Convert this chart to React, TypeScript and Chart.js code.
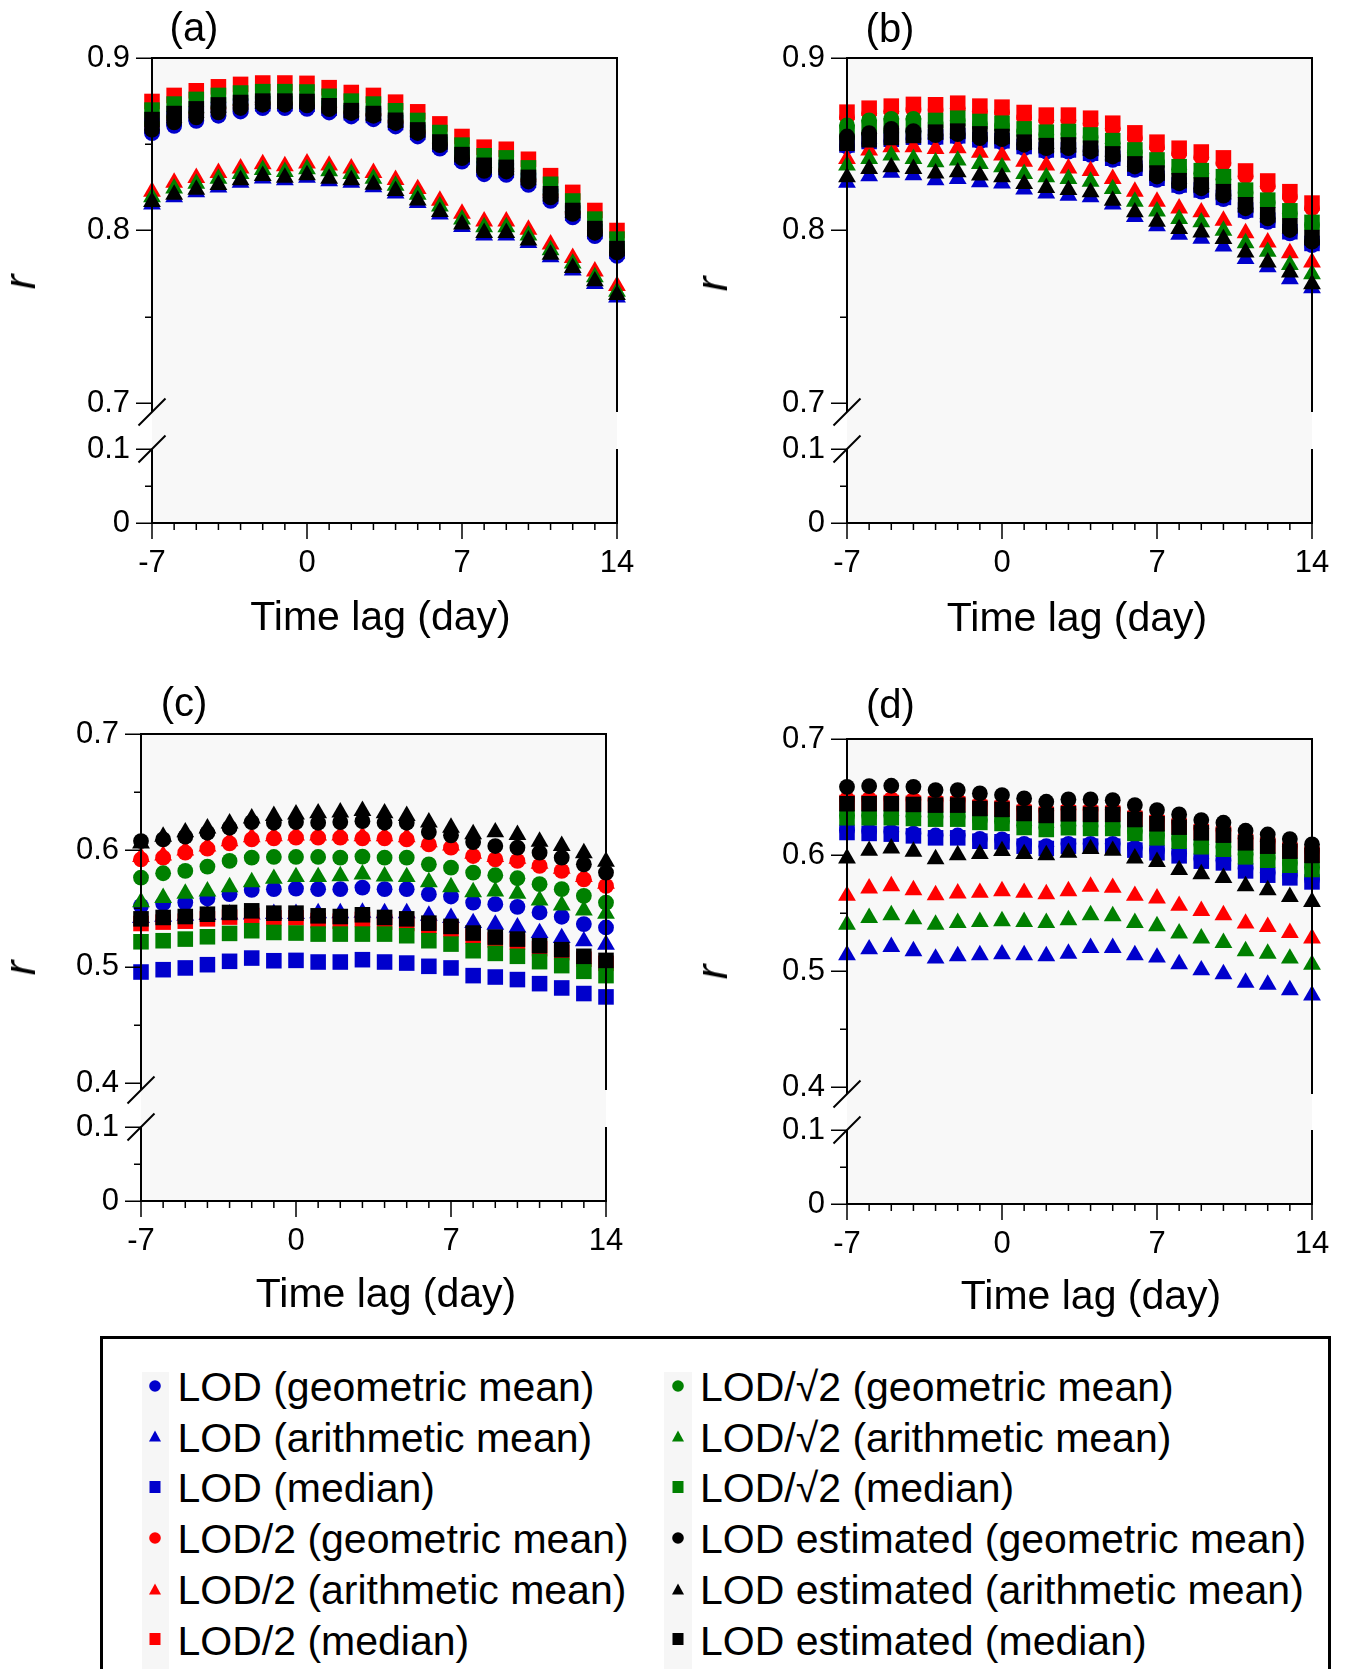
import React, { useEffect, useRef } from 'react';
import { Chart, registerables } from 'chart.js';

Chart.register(...registerables);

const FONT = "'Liberation Sans', Arial, Helvetica, sans-serif";
const BG = '#f8f8f8';

// ---------------- data ----------------
const LAGS = [-7, -6, -5, -4, -3, -2, -1, 0, 1, 2, 3, 4, 5, 6, 7, 8, 9, 10, 11, 12, 13, 14];
const X_TICKS = [-7, 0, 7, 14];
const X_LABELS = ['-7', '0', '7', '14'];
const Y_TICKS_AB = [0.7, 0.75, 0.8, 0.85, 0.9];
const Y_LABELS_AB = ['0.7', '', '0.8', '', '0.9'];
const Y_TICKS_CD = [0.4, 0.45, 0.5, 0.55, 0.6, 0.65, 0.7];
const Y_LABELS_CD = ['0.4', '', '0.5', '', '0.6', '', '0.7'];
const Y_TICKS_LOW = [0, 0.05, 0.1];
const Y_LABELS_LOW = ['0', '', '0.1'];

const SERIES_NAMES = [
  'LOD (geometric mean)', 'LOD (arithmetic mean)', 'LOD (median)',
  'LOD/2 (geometric mean)', 'LOD/2 (arithmetic mean)', 'LOD/2 (median)',
  'LOD/\u221A2 (geometric mean)', 'LOD/\u221A2 (arithmetic mean)', 'LOD/\u221A2 (median)',
  'LOD estimated (geometric mean)', 'LOD estimated (arithmetic mean)', 'LOD estimated (median)',
];
const BLUE = '#0000cc', RED = '#ff0000', GREEN = '#008000', BLACK = '#000000';
const SERIES_COLORS = [BLUE, BLUE, BLUE, RED, RED, RED, GREEN, GREEN, GREEN, BLACK, BLACK, BLACK];
const SERIES_SHAPES = ['circle', 'triangle', 'rect', 'circle', 'triangle', 'rect', 'circle', 'triangle', 'rect', 'circle', 'triangle', 'rect'];

// Panel (a)
const A_LOD_GEO = [0.8564,0.8607,0.8636,0.8665,0.8690,0.8709,0.8709,0.8705,0.8684,0.8661,0.8645,0.8603,0.8545,0.8475,0.8399,0.8326,0.8322,0.8264,0.8172,0.8076,0.7967,0.7853];
const A_LOD_ARI = [0.8151,0.8193,0.8222,0.8250,0.8277,0.8302,0.8292,0.8306,0.8286,0.8277,0.8251,0.8215,0.8160,0.8093,0.8021,0.7972,0.7972,0.7928,0.7846,0.7769,0.7691,0.7612];
const A_LOD_MED = [0.8609,0.8648,0.8676,0.8702,0.8721,0.8735,0.8735,0.8732,0.8709,0.8683,0.8667,0.8626,0.8569,0.8499,0.8425,0.8357,0.8349,0.8291,0.8198,0.8101,0.7994,0.7879];
const A_HALF_GEO = [0.8614,0.8653,0.8681,0.8707,0.8726,0.8740,0.8740,0.8737,0.8714,0.8688,0.8672,0.8631,0.8574,0.8504,0.8430,0.8362,0.8354,0.8296,0.8203,0.8106,0.7999,0.7884];
const A_HALF_ARI = [0.8226,0.8278,0.8305,0.8334,0.8361,0.8385,0.8373,0.8389,0.8377,0.8361,0.8334,0.8294,0.8241,0.8173,0.8098,0.8053,0.8053,0.8005,0.7920,0.7842,0.7763,0.7679];
const A_HALF_MED = [0.8748,0.8783,0.8810,0.8833,0.8847,0.8855,0.8855,0.8853,0.8828,0.8800,0.8783,0.8744,0.8688,0.8618,0.8545,0.8483,0.8471,0.8413,0.8318,0.8221,0.8116,0.8000];
const A_SQRT_GEO = [0.8619,0.8658,0.8686,0.8712,0.8731,0.8745,0.8745,0.8742,0.8719,0.8693,0.8677,0.8636,0.8579,0.8509,0.8435,0.8367,0.8359,0.8301,0.8208,0.8111,0.8004,0.7889];
const A_SQRT_ARI = [0.8193,0.8245,0.8272,0.8301,0.8328,0.8352,0.8340,0.8356,0.8344,0.8328,0.8301,0.8261,0.8208,0.8140,0.8065,0.8020,0.8020,0.7972,0.7887,0.7809,0.7730,0.7646];
const A_SQRT_MED = [0.8698,0.8733,0.8760,0.8783,0.8797,0.8805,0.8805,0.8803,0.8778,0.8750,0.8733,0.8694,0.8638,0.8568,0.8495,0.8433,0.8421,0.8363,0.8268,0.8171,0.8066,0.7950];
const A_EST_GEO = [0.8584,0.8627,0.8656,0.8685,0.8710,0.8729,0.8729,0.8725,0.8704,0.8681,0.8665,0.8623,0.8565,0.8495,0.8419,0.8346,0.8342,0.8284,0.8192,0.8096,0.7987,0.7873];
const A_EST_ARI = [0.8166,0.8208,0.8237,0.8265,0.8292,0.8317,0.8307,0.8321,0.8301,0.8292,0.8266,0.8230,0.8175,0.8108,0.8036,0.7987,0.7987,0.7943,0.7861,0.7784,0.7706,0.7627];
const A_EST_MED = [0.8643,0.8678,0.8705,0.8728,0.8742,0.8750,0.8750,0.8748,0.8723,0.8695,0.8678,0.8639,0.8583,0.8513,0.8440,0.8378,0.8366,0.8308,0.8213,0.8116,0.8011,0.7895];

// Panel (b)
const B_LOD_GEO = [0.8486,0.8506,0.8519,0.8531,0.8533,0.8539,0.8516,0.8510,0.8477,0.8457,0.8457,0.8438,0.8409,0.8351,0.8293,0.8254,0.8225,0.8182,0.8109,0.8050,0.7983,0.7915];
const B_LOD_ARI = [0.8277,0.8315,0.8335,0.8321,0.8292,0.8300,0.8281,0.8273,0.8238,0.8215,0.8203,0.8193,0.8151,0.8079,0.8025,0.7976,0.7953,0.7908,0.7835,0.7788,0.7718,0.7666];
const B_LOD_MED = [0.8496,0.8516,0.8529,0.8541,0.8543,0.8549,0.8526,0.8520,0.8487,0.8467,0.8467,0.8448,0.8419,0.8361,0.8303,0.8264,0.8235,0.8192,0.8119,0.8060,0.7993,0.7925];
const B_HALF_GEO = [0.8656,0.8679,0.8691,0.8701,0.8699,0.8708,0.8691,0.8685,0.8654,0.8639,0.8639,0.8621,0.8592,0.8536,0.8482,0.8447,0.8425,0.8391,0.8315,0.8257,0.8195,0.8129];
const B_HALF_ARI = [0.8416,0.8464,0.8484,0.8484,0.8474,0.8478,0.8451,0.8435,0.8400,0.8377,0.8361,0.8346,0.8299,0.8226,0.8168,0.8129,0.8106,0.8057,0.7985,0.7931,0.7869,0.7815];
const B_HALF_MED = [0.8686,0.8709,0.8721,0.8731,0.8729,0.8738,0.8721,0.8715,0.8684,0.8669,0.8669,0.8651,0.8622,0.8566,0.8512,0.8477,0.8455,0.8421,0.8345,0.8287,0.8225,0.8159];
const B_SQRT_GEO = [0.8609,0.8638,0.8647,0.8647,0.8623,0.8636,0.8617,0.8607,0.8574,0.8555,0.8559,0.8539,0.8506,0.8452,0.8394,0.8355,0.8332,0.8297,0.8219,0.8161,0.8099,0.8032];
const B_SQRT_ARI = [0.8377,0.8416,0.8435,0.8416,0.8396,0.8406,0.8387,0.8367,0.8328,0.8309,0.8299,0.8284,0.8241,0.8168,0.8111,0.8067,0.8048,0.7999,0.7927,0.7877,0.7801,0.7747];
const B_SQRT_MED = [0.8569,0.8598,0.8607,0.8607,0.8638,0.8651,0.8632,0.8622,0.8589,0.8570,0.8574,0.8554,0.8521,0.8467,0.8409,0.8370,0.8347,0.8312,0.8234,0.8176,0.8114,0.8047];
const B_EST_GEO = [0.8545,0.8564,0.8589,0.8576,0.8553,0.8559,0.8536,0.8530,0.8497,0.8477,0.8477,0.8458,0.8429,0.8371,0.8313,0.8274,0.8245,0.8202,0.8129,0.8070,0.8003,0.7935];
const B_EST_ARI = [0.8309,0.8358,0.8367,0.8358,0.8332,0.8338,0.8319,0.8309,0.8270,0.8247,0.8235,0.8222,0.8173,0.8106,0.8051,0.8009,0.7989,0.7951,0.7873,0.7815,0.7757,0.7689];
const B_EST_MED = [0.8506,0.8526,0.8539,0.8551,0.8570,0.8576,0.8560,0.8545,0.8512,0.8492,0.8496,0.8477,0.8444,0.8386,0.8333,0.8289,0.8264,0.8225,0.8149,0.8091,0.8027,0.7959];

// Panel (c)
const C_LOD_GEO = [0.5523,0.5543,0.5551,0.5586,0.5623,0.5660,0.5666,0.5671,0.5666,0.5666,0.5680,0.5666,0.5666,0.5623,0.5603,0.5551,0.5537,0.5514,0.5466,0.5429,0.5366,0.5337];
const C_LOD_ARI = [0.5420,0.5430,0.5440,0.5445,0.5450,0.5450,0.5455,0.5455,0.5460,0.5460,0.5465,0.5460,0.5460,0.5439,0.5419,0.5376,0.5361,0.5339,0.5290,0.5247,0.5219,0.5190];
const C_LOD_MED = [0.4954,0.4974,0.4989,0.5017,0.5046,0.5074,0.5051,0.5054,0.5040,0.5040,0.5060,0.5040,0.5031,0.5003,0.4989,0.4923,0.4911,0.4889,0.4854,0.4817,0.4769,0.4740];
const C_HALF_GEO = [0.5923,0.5937,0.5980,0.6014,0.6060,0.6094,0.6103,0.6109,0.6109,0.6109,0.6103,0.6103,0.6094,0.6051,0.6023,0.5951,0.5923,0.5909,0.5866,0.5823,0.5751,0.5694];
const C_HALF_ARI = [0.5943,0.5957,0.6000,0.6034,0.6080,0.6114,0.6123,0.6129,0.6129,0.6129,0.6123,0.6123,0.6114,0.6071,0.6043,0.5971,0.5943,0.5929,0.5886,0.5843,0.5771,0.5714];
const C_HALF_MED = [0.5371,0.5383,0.5391,0.5411,0.5426,0.5440,0.5420,0.5420,0.5397,0.5391,0.5406,0.5383,0.5371,0.5349,0.5321,0.5264,0.5229,0.5212,0.5155,0.5121,0.5064,0.5029];
const C_SQRT_GEO = [0.5766,0.5803,0.5823,0.5860,0.5909,0.5937,0.5943,0.5943,0.5943,0.5937,0.5946,0.5937,0.5937,0.5880,0.5851,0.5809,0.5786,0.5760,0.5709,0.5666,0.5609,0.5551];
const C_SQRT_ARI = [0.5556,0.5591,0.5628,0.5648,0.5685,0.5728,0.5756,0.5771,0.5771,0.5779,0.5794,0.5776,0.5771,0.5728,0.5685,0.5642,0.5648,0.5628,0.5571,0.5528,0.5485,0.5456];
const C_SQRT_MED = [0.5214,0.5223,0.5237,0.5257,0.5286,0.5309,0.5294,0.5289,0.5280,0.5280,0.5280,0.5280,0.5266,0.5223,0.5194,0.5137,0.5114,0.5089,0.5043,0.5009,0.4960,0.4923];
const C_EST_GEO = [0.6080,0.6094,0.6117,0.6151,0.6194,0.6243,0.6237,0.6243,0.6237,0.6243,0.6251,0.6237,0.6237,0.6157,0.6129,0.6071,0.6037,0.6023,0.5980,0.5937,0.5880,0.5809];
const C_EST_ARI = [0.6061,0.6119,0.6156,0.6190,0.6233,0.6276,0.6296,0.6310,0.6319,0.6327,0.6339,0.6319,0.6296,0.6241,0.6196,0.6139,0.6156,0.6133,0.6076,0.6039,0.5976,0.5904];
const C_EST_MED = [0.5411,0.5423,0.5431,0.5451,0.5466,0.5480,0.5460,0.5460,0.5437,0.5431,0.5446,0.5423,0.5411,0.5374,0.5346,0.5289,0.5254,0.5237,0.5180,0.5146,0.5089,0.5054];

// Panel (d)
const D_LOD_GEO = [0.6214,0.6206,0.6200,0.6185,0.6168,0.6168,0.6139,0.6134,0.6096,0.6076,0.6096,0.6096,0.6096,0.6062,0.6039,0.6013,0.5967,0.5952,0.5883,0.5846,0.5823,0.5788];
const D_LOD_ARI = [0.5137,0.5188,0.5209,0.5171,0.5108,0.5128,0.5137,0.5145,0.5137,0.5128,0.5151,0.5200,0.5200,0.5137,0.5117,0.5059,0.5007,0.4973,0.4901,0.4883,0.4835,0.4791];
const D_LOD_MED = [0.6194,0.6186,0.6180,0.6165,0.6148,0.6148,0.6119,0.6114,0.6076,0.6056,0.6076,0.6076,0.6076,0.6042,0.6019,0.5993,0.5947,0.5932,0.5863,0.5826,0.5803,0.5768];
const D_HALF_GEO = [0.6482,0.6482,0.6482,0.6476,0.6470,0.6470,0.6441,0.6433,0.6398,0.6381,0.6395,0.6390,0.6390,0.6346,0.6309,0.6280,0.6231,0.6211,0.6145,0.6116,0.6073,0.6036];
const D_HALF_ARI = [0.5649,0.5712,0.5732,0.5698,0.5655,0.5669,0.5675,0.5689,0.5675,0.5663,0.5689,0.5727,0.5718,0.5649,0.5626,0.5563,0.5519,0.5482,0.5410,0.5381,0.5329,0.5281];
const D_HALF_MED = [0.6452,0.6452,0.6452,0.6446,0.6440,0.6440,0.6411,0.6403,0.6368,0.6351,0.6365,0.6360,0.6360,0.6316,0.6279,0.6250,0.6201,0.6181,0.6115,0.6086,0.6043,0.6006];
const D_SQRT_GEO = [0.6341,0.6341,0.6341,0.6335,0.6329,0.6329,0.6301,0.6292,0.6257,0.6240,0.6255,0.6249,0.6249,0.6206,0.6168,0.6139,0.6091,0.6070,0.6004,0.5975,0.5932,0.5895];
const D_SQRT_ARI = [0.5401,0.5459,0.5482,0.5447,0.5401,0.5416,0.5424,0.5430,0.5424,0.5416,0.5439,0.5482,0.5473,0.5416,0.5387,0.5324,0.5281,0.5243,0.5171,0.5151,0.5108,0.5056];
const D_SQRT_MED = [0.6321,0.6321,0.6321,0.6315,0.6309,0.6309,0.6281,0.6272,0.6237,0.6220,0.6235,0.6229,0.6229,0.6186,0.6148,0.6119,0.6071,0.6050,0.5984,0.5955,0.5912,0.5875];
const D_EST_GEO = [0.6588,0.6594,0.6597,0.6588,0.6560,0.6560,0.6531,0.6517,0.6488,0.6459,0.6479,0.6479,0.6473,0.6430,0.6387,0.6350,0.6301,0.6278,0.6209,0.6177,0.6137,0.6091];
const D_EST_ARI = [0.5971,0.6037,0.6058,0.6029,0.5965,0.6000,0.6009,0.6035,0.6009,0.6000,0.6020,0.6052,0.6037,0.5971,0.5942,0.5871,0.5836,0.5804,0.5732,0.5698,0.5640,0.5597];
const D_EST_MED = [0.6442,0.6442,0.6442,0.6436,0.6430,0.6430,0.6401,0.6393,0.6358,0.6341,0.6355,0.6350,0.6350,0.6306,0.6269,0.6240,0.6191,0.6171,0.6105,0.6076,0.6033,0.5996];

// ---------------- panel setup (layout kept apart from data) ----------------
const PANELS = [
  { key: 'a', title: '(a)', hi: 0.9, lo: 0.7, ticks: Y_TICKS_AB, labels: Y_LABELS_AB,
    series: [A_LOD_GEO, A_LOD_ARI, A_LOD_MED, A_HALF_GEO, A_HALF_ARI, A_HALF_MED, A_SQRT_GEO, A_SQRT_ARI, A_SQRT_MED, A_EST_GEO, A_EST_ARI, A_EST_MED],
    g: { xL: 152, xR: 617, yHi: 58, yLoTick: 403, gapTop: 412, y01: 449, y0: 523, tx: 194, ty: 26.5, rx: 20, ry: 282, lx: 380.5, ly: 616 } },
  { key: 'b', title: '(b)', hi: 0.9, lo: 0.7, ticks: Y_TICKS_AB, labels: Y_LABELS_AB,
    series: [B_LOD_GEO, B_LOD_ARI, B_LOD_MED, B_HALF_GEO, B_HALF_ARI, B_HALF_MED, B_SQRT_GEO, B_SQRT_ARI, B_SQRT_MED, B_EST_GEO, B_EST_ARI, B_EST_MED],
    g: { xL: 847, xR: 1312, yHi: 58, yLoTick: 403, gapTop: 412, y01: 449, y0: 523, tx: 890, ty: 27.5, rx: 712, ry: 284, lx: 1077, ly: 617 } },
  { key: 'c', title: '(c)', hi: 0.7, lo: 0.4, ticks: Y_TICKS_CD, labels: Y_LABELS_CD,
    series: [C_LOD_GEO, C_LOD_ARI, C_LOD_MED, C_HALF_GEO, C_HALF_ARI, C_HALF_MED, C_SQRT_GEO, C_SQRT_ARI, C_SQRT_MED, C_EST_GEO, C_EST_ARI, C_EST_MED],
    g: { xL: 141, xR: 606, yHi: 734, yLoTick: 1083, gapTop: 1090, y01: 1127, y0: 1201, tx: 184, ty: 701.5, rx: 20, ry: 968, lx: 386, ly: 1293 } },
  { key: 'd', title: '(d)', hi: 0.7, lo: 0.4, ticks: Y_TICKS_CD, labels: Y_LABELS_CD,
    series: [D_LOD_GEO, D_LOD_ARI, D_LOD_MED, D_HALF_GEO, D_HALF_ARI, D_HALF_MED, D_SQRT_GEO, D_SQRT_ARI, D_SQRT_MED, D_EST_GEO, D_EST_ARI, D_EST_MED],
    g: { xL: 847, xR: 1312, yHi: 739, yLoTick: 1087, gapTop: 1094, y01: 1130, y0: 1204, tx: 890.4, ty: 704, rx: 712, ry: 972, lx: 1091, ly: 1295 } },
];

const PADL = 150, PADR = 50, PADT = 55, PADB = 55, XAXH = 80, YAXW = 80;
const TICK_FONT = { family: FONT, size: 31 };
const RADIUS: Record<string, number> = { circle: 7.9, triangle: 10.3, rect: 11 };

function brokenAxisPlugin(part: 'upper' | 'lower', yTicks: number[], yLabels: string[]) {
  return {
    id: 'brokenAxis_' + part,
    afterDatasetsDraw(chart: any) {
      const { ctx, chartArea } = chart;
      const { left, right, top, bottom } = chartArea;
      const ys = chart.scales.y;
      const xs = chart.scales.x;
      ctx.save();
      ctx.strokeStyle = '#000';
      ctx.lineWidth = 2;
      ctx.lineJoin = 'miter';
      ctx.beginPath();
      if (part === 'upper') {
        ctx.moveTo(left, bottom);
        ctx.lineTo(left, top);
        ctx.lineTo(right, top);
        ctx.lineTo(right, bottom);
      } else {
        ctx.moveTo(left, top);
        ctx.lineTo(left, bottom);
        ctx.lineTo(right, bottom);
        ctx.lineTo(right, top);
      }
      ctx.stroke();
      ctx.lineWidth = 1.5;
      ctx.beginPath();
      yTicks.forEach((v, i) => {
        const y = Math.round(ys.getPixelForValue(v)) + 0.25;
        const len = yLabels[i] ? 16 : 7;
        ctx.moveTo(left - len, y);
        ctx.lineTo(left, y);
      });
      if (part === 'lower') {
        LAGS.forEach((lag) => {
          const x = xs.getPixelForValue(lag);
          const len = X_TICKS.includes(lag) ? 16 : 7;
          ctx.moveTo(x, bottom);
          ctx.lineTo(x, bottom + len);
        });
      }
      ctx.stroke();
      const cy = part === 'upper' ? bottom : top;
      ctx.lineWidth = 2;
      ctx.beginPath();
      ctx.moveTo(left - 13.5, cy + 13.5);
      ctx.lineTo(left + 13.5, cy - 13.5);
      ctx.stroke();
      ctx.restore();
    },
  };
}

function yScale(min: number, max: number, ticks: number[], labels: string[]) {
  return {
    type: 'linear', position: 'left', min, max,
    afterBuildTicks: (s: any) => { s.ticks = ticks.map((v) => ({ value: v })); },
    afterFit: (s: any) => { s.width = YAXW; },
    grid: { display: false, drawTicks: false, tickLength: 0 },
    border: { display: false },
    ticks: { autoSkip: false, padding: 22, color: '#000', font: TICK_FONT, callback: (_v: any, i: number) => labels[i] },
  };
}

function upperConfig(p: any) {
  const g = p.g;
  const pxPerUnit = (g.yLoTick - g.yHi) / (p.hi - p.lo);
  const yMin = p.lo - (g.gapTop - g.yLoTick) / pxPerUnit;
  const datasets = p.series.map((arr: number[], i: number) => ({
    label: SERIES_NAMES[i],
    data: LAGS.map((x, j) => ({ x, y: arr[j] })),
    pointStyle: SERIES_SHAPES[i],
    pointRadius: RADIUS[SERIES_SHAPES[i]],
    pointBackgroundColor: SERIES_COLORS[i],
    pointBorderColor: SERIES_COLORS[i],
    pointBorderWidth: 0,
    showLine: false,
    clip: false,
    order: 12 - i,
  }));
  return {
    type: 'scatter',
    data: { datasets },
    options: {
      responsive: false, animation: false, devicePixelRatio: 1, events: [],
      layout: { autoPadding: false, padding: { left: PADL - YAXW, right: PADR, top: PADT, bottom: PADB } },
      plugins: { legend: { display: false }, tooltip: { enabled: false } },
      scales: {
        x: { type: 'linear', display: false, min: -7, max: 14 },
        y: yScale(yMin, p.hi, p.ticks, p.labels),
      },
    },
    plugins: [brokenAxisPlugin('upper', p.ticks, p.labels)],
  };
}

function lowerConfig(p: any) {
  return {
    type: 'scatter',
    data: { datasets: [] },
    options: {
      responsive: false, animation: false, devicePixelRatio: 1, events: [],
      layout: { autoPadding: false, padding: { left: PADL - YAXW, right: PADR, top: PADT, bottom: 0 } },
      plugins: { legend: { display: false }, tooltip: { enabled: false } },
      scales: {
        x: {
          type: 'linear', position: 'bottom', min: -7, max: 14,
          afterBuildTicks: (s: any) => { s.ticks = X_TICKS.map((v) => ({ value: v })); },
          afterFit: (s: any) => { s.height = XAXH; },
          grid: { display: false, drawTicks: false, tickLength: 0 },
          border: { display: false },
          ticks: { autoSkip: false, maxRotation: 0, minRotation: 0, padding: 22, color: '#000', font: TICK_FONT,
            callback: (_v: any, i: number) => X_LABELS[i] },
        },
        y: yScale(0, 0.1, Y_TICKS_LOW, Y_LABELS_LOW),
      },
    },
    plugins: [brokenAxisPlugin('lower', Y_TICKS_LOW, Y_LABELS_LOW)],
  };
}

function Txt({ x, y, size, italic, rotate, children }: any) {
  return (
    <div style={{
      position: 'absolute', left: x, top: y,
      transform: `translate(-50%, -50%)${rotate ? ' rotate(-90deg)' : ''}`,
      fontSize: size, lineHeight: 1, fontStyle: italic ? 'italic' : 'normal',
      whiteSpace: 'nowrap', fontFamily: FONT, color: '#000',
    }}>{children}</div>
  );
}

function Panel({ p }: any) {
  const upRef = useRef<HTMLCanvasElement>(null);
  const loRef = useRef<HTMLCanvasElement>(null);
  const g = p.g;
  useEffect(() => {
    const c1 = new Chart(upRef.current as any, upperConfig(p) as any);
    const c2 = new Chart(loRef.current as any, lowerConfig(p) as any);
    return () => { c1.destroy(); c2.destroy(); };
  }, [p]);
  const w = PADL + (g.xR - g.xL) + PADR;
  const upH = PADT + (g.gapTop - g.yHi) + PADB;
  const loH = PADT + (g.y0 - g.y01) + XAXH;
  return (
    <>
      <div style={{ position: 'absolute', left: g.xL, top: g.yHi, width: g.xR - g.xL, height: g.y0 - g.yHi, background: BG }} />
      <canvas ref={upRef} width={w} height={upH}
        style={{ position: 'absolute', left: g.xL - PADL, top: g.yHi - PADT, width: w, height: upH }} />
      <canvas ref={loRef} width={w} height={loH}
        style={{ position: 'absolute', left: g.xL - PADL, top: g.y01 - PADT, width: w, height: loH }} />
      <Txt x={g.tx} y={g.ty} size={40}>{p.title}</Txt>
      <Txt x={g.rx} y={g.ry} size={44} italic rotate>r</Txt>
      <Txt x={g.lx} y={g.ly} size={41}>Time lag (day)</Txt>
    </>
  );
}

function Marker({ shape, color, x, y }: any) {
  return (
    <svg width={16} height={16} style={{ position: 'absolute', left: x - 8, top: y - 8 }}>
      {shape === 'circle' && <circle cx={8} cy={8} r={5.8} fill={color} />}
      {shape === 'triangle' && <polygon points="2,13.5 14,13.5 8,2.5" fill={color} />}
      {shape === 'rect' && <rect x={2.5} y={2} width={11} height={12} fill={color} />}
    </svg>
  );
}

function Legend() {
  const colX = [155, 678];
  const textX = [177.5, 700];
  const base0 = 1401.7, step = 50.7;
  return (
    <>
      <div style={{ position: 'absolute', left: 100, top: 1336, width: 1231, height: 360, border: '3px solid #000', boxSizing: 'border-box' }} />
      <div style={{ position: 'absolute', left: 142, top: 1372, width: 27, height: 300, background: '#f6f6f6' }} />
      <div style={{ position: 'absolute', left: 664, top: 1372, width: 28, height: 300, background: '#f6f6f6' }} />
      {SERIES_NAMES.map((name, i) => {
        const col = i < 6 ? 0 : 1;
        const row = i % 6;
        const base = base0 + row * step;
        return (
          <React.Fragment key={name}>
            <Marker shape={SERIES_SHAPES[i]} color={SERIES_COLORS[i]} x={colX[col]} y={base - 16} />
            <div style={{ position: 'absolute', left: textX[col], top: base - 34.7, fontSize: 41, lineHeight: '41px', fontFamily: FONT, whiteSpace: 'nowrap', color: '#000' }}>{name}</div>
          </React.Fragment>
        );
      })}
    </>
  );
}

export default function App() {
  return (
    <div style={{ position: 'absolute', left: 0, top: 0, width: 1346, height: 1669, overflow: 'hidden', background: '#fff', fontFamily: FONT }}>
      {PANELS.map((p) => <Panel key={p.key} p={p} />)}
      <Legend />
    </div>
  );
}
